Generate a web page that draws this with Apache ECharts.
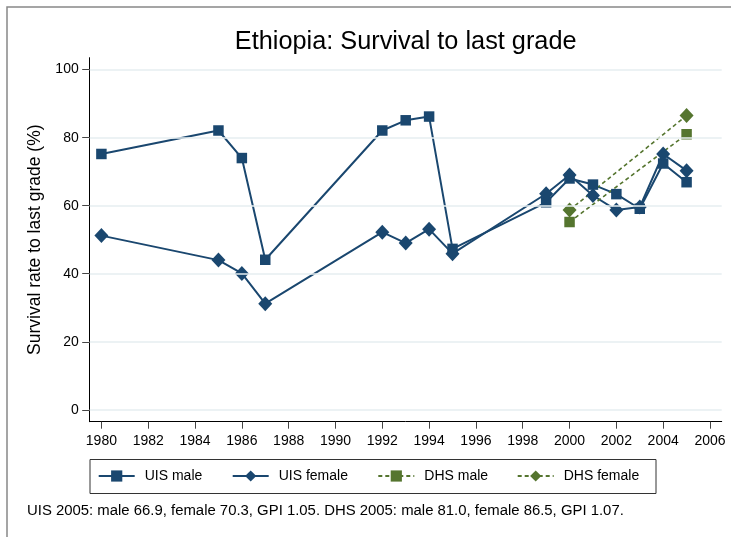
<!DOCTYPE html>
<html>
<head>
<meta charset="utf-8">
<script src="https://cdn.jsdelivr.net/npm/echarts@6/dist/echarts.min.js"></script>
<style>
  html, body { margin: 0; padding: 0; background: #fff; }
  #chart { width: 731px; height: 537px; }
</style>
</head>
<body>
<div id="chart"></div>
<script>
// data
var uisYears = [1980, 1985, 1986, 1987, 1992, 1993, 1994, 1995, 1999, 2000, 2001, 2002, 2003, 2004, 2005];
var uisMale = [75.2, 82.1, 74.0, 44.1, 82.1, 85.1, 86.2, 47.3, 61.0, 68.0, 66.2, 63.4, 59.1, 72.4, 66.9];
var uisFemale = [51.2, 44.0, 40.1, 31.2, 52.2, 49.0, 53.1, 45.9, 63.5, 69.0, 63.0, 58.7, 59.6, 75.2, 70.3];
var dhsYears = [2000, 2005];
var dhsMale = [55.2, 81.0];
var dhsFemale = [58.7, 86.5];

var xTicks = [1980, 1982, 1984, 1986, 1988, 1990, 1992, 1994, 1996, 1998, 2000, 2002, 2004, 2006];
var yTicks = [0, 20, 40, 60, 80, 100];

var titleText = 'Ethiopia: Survival to last grade';
var yName = 'Survival rate to last grade (%)';
var noteText = 'UIS 2005: male 66.9, female 70.3, GPI 1.05. DHS 2005: male 81.0, female 86.5, GPI 1.07.';

var FONT = '"Liberation Sans", Arial, sans-serif';
var NAVY = '#1a476f';
var GREEN = '#55752f';

function pairs(xs, ys) {
    return xs.map(function (x, i) { return [x, ys[i]]; });
}

document.addEventListener('DOMContentLoaded', function () {
    var chart = echarts.init(document.getElementById('chart'));

    // one legend per entry, placed like the stata legend columns
    function legendAt(name, left) {
        return {
            data: [name],
            left: left,
            top: 469,
            padding: 0,
            itemWidth: 36,
            itemHeight: 14,
            textStyle: { fontFamily: FONT, fontSize: 14, color: '#000', padding: [0, 0, 0, 5] }
        };
    }

    var option = {
        animation: false,
        backgroundColor: '#fff',
        title: {
            text: titleText,
            left: 405.7,
            textAlign: 'center',
            top: 30,
            padding: 0,
            textStyle: { fontFamily: FONT, fontSize: 25.3, fontWeight: 'normal', color: '#000' }
        },
        grid: { left: 89.7, right: 9.3, top: 57.7, bottom: 115.3 },
        xAxis: {
            type: 'value',
            min: 1979.5,
            max: 2006.5,
            axisLine: { onZero: false, lineStyle: { color: '#000', width: 1 } },
            axisTick: { customValues: xTicks, length: 7, lineStyle: { color: '#444', width: 1 } },
            axisLabel: {
                customValues: xTicks, margin: 12, fontFamily: FONT, fontSize: 14, color: '#000',
                formatter: function (v) { return String(v); }
            },
            splitLine: { show: false }
        },
        yAxis: {
            type: 'value',
            min: -3.5,
            max: 103.5,
            name: yName,
            nameLocation: 'middle',
            nameGap: 41,
            nameTextStyle: { fontFamily: FONT, fontSize: 17.5, color: '#000' },
            axisLine: { show: true, onZero: false, lineStyle: { color: '#000', width: 1 } },
            axisTick: { show: true, customValues: yTicks, length: 7.5, lineStyle: { color: '#444', width: 1 } },
            axisLabel: { customValues: yTicks, margin: 11, fontFamily: FONT, fontSize: 14, color: '#000' },
            splitLine: { show: false }
        },
        legend: [
            legendAt('UIS male', 97.7),
            legendAt('UIS female', 231.7),
            legendAt('DHS male', 377.3),
            legendAt('DHS female', 516.7)
        ],
        graphic: [
            { type: 'rect', shape: { x: 7, y: 7, width: 900, height: 700 }, style: { fill: null, stroke: '#888', lineWidth: 1.5 }, silent: true },
            { type: 'rect', shape: { x: 90, y: 459.5, width: 566, height: 34 }, style: { fill: null, stroke: '#333', lineWidth: 1 }, silent: true },
            { type: 'text', left: 27, top: 503, style: { text: noteText, fontFamily: FONT, fontSize: 14.9, fill: '#000' }, silent: true }
        ],
        series: [
            {
                // gridlines at the y tick values
                type: 'line',
                data: [],
                z: 0,
                silent: true,
                markLine: {
                    silent: true,
                    symbol: ['none', 'none'],
                    label: { show: false },
                    lineStyle: { color: '#e6eef1', width: 1.5, type: 'solid' },
                    data: yTicks.map(function (v) { return { yAxis: v }; })
                }
            },
            {
                name: 'UIS male',
                type: 'line',
                data: pairs(uisYears, uisMale),
                symbol: 'rect',
                symbolSize: 10.5,
                color: NAVY,
                lineStyle: { color: NAVY, width: 2 },
                itemStyle: { color: NAVY }
            },
            {
                name: 'UIS female',
                type: 'line',
                data: pairs(uisYears, uisFemale),
                symbol: 'diamond',
                symbolSize: [14, 15],
                color: NAVY,
                lineStyle: { color: NAVY, width: 2 },
                itemStyle: { color: NAVY }
            },
            {
                name: 'DHS male',
                type: 'line',
                data: pairs(dhsYears, dhsMale),
                symbol: 'rect',
                symbolSize: 10.5,
                color: GREEN,
                lineStyle: { color: GREEN, width: 1.6, type: [4, 3] },
                itemStyle: { color: GREEN }
            },
            {
                name: 'DHS female',
                type: 'line',
                data: pairs(dhsYears, dhsFemale),
                symbol: 'diamond',
                symbolSize: [14, 15],
                color: GREEN,
                lineStyle: { color: GREEN, width: 1.6, type: [4, 3] },
                itemStyle: { color: GREEN }
            }
        ]
    };

    try {
        chart.setOption(option);
    } catch (error) {
        console.error('Error setting the chart option:', error);
    }
});
</script>
</body>
</html>
